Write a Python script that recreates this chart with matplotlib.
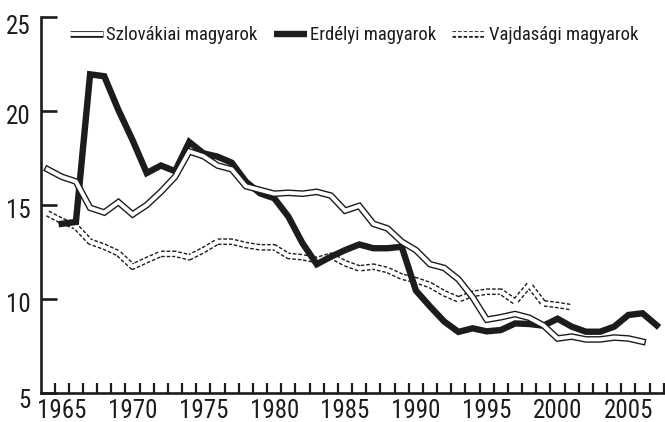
import matplotlib
matplotlib.use("Agg")
import matplotlib.pyplot as plt
import matplotlib.transforms as mtransforms
from matplotlib.lines import Line2D
from matplotlib.legend_handler import HandlerTuple
from matplotlib.ticker import FixedLocator
import numpy as np

plt.rcParams['font.family'] = ['Roboto Condensed', 'DejaVu Sans']
plt.rcParams['font.stretch'] = 'condensed'
plt.rcParams['lines.scale_dashes'] = False

years_slo = list(range(1964, 2007))
slovakia = [16.9, 16.5, 16.25, 14.85, 14.6, 15.15, 14.5, 15.0, 15.7, 16.5, 17.85,
            17.6, 17.1, 16.9, 16.0, 15.8, 15.6, 15.65, 15.6, 15.7, 15.5, 14.7,
            14.95, 14.0, 13.75, 13.05, 12.6, 11.85, 11.65, 11.05, 10.1, 8.9,
            9.03, 9.2, 9.0, 8.6, 7.9, 8.0, 7.85, 7.85, 7.95, 7.9, 7.73]

years_erd = list(range(1965, 2008))
erdely = [14.0, 14.1, 21.95, 21.85, 20.05, 18.45, 16.7, 17.1, 16.8, 18.35,
          17.75, 17.57, 17.25, 16.24, 15.62, 15.36, 14.38, 12.96, 11.85, 12.25,
          12.6, 12.9, 12.7, 12.7, 12.78, 10.45, 9.6, 8.8, 8.25, 8.44, 8.28,
          8.35, 8.7, 8.67, 8.58, 8.95, 8.53, 8.26, 8.26, 8.53, 9.15, 9.24, 8.6]

years_vaj = list(range(1964, 2002))
vajdasag = [14.55, 14.16, 13.85, 13.05, 12.78, 12.43, 11.72, 12.07, 12.4, 12.4,
            12.22, 12.6, 13.05, 13.05, 12.87, 12.75, 12.75, 12.29, 12.22, 12.07,
            12.3, 11.9, 11.63, 11.72, 11.54, 11.19, 11.0, 10.74, 10.3, 9.98,
            10.27, 10.39, 10.39, 9.86, 10.75, 9.77, 9.68, 9.56]

labels = ["Szlovákiai magyarok", "Erdélyi magyarok", "Vajdasági magyarok"]
x_ticks = [1965, 1970, 1975, 1980, 1985, 1990, 1995, 2000, 2005]
y_ticks = [5, 10, 15, 20, 25]

INK = "#1c1c1c"
W = 665 / 100
H = 422 / 100
fig = plt.figure(figsize=(W, H), dpi=100)
ax = fig.add_axes([40.5 / 665, 29 / 422, 623.3 / 665, 376 / 422])

outer = 4.8
inner = 2.8
thick = 4.6
dash = (0, (2.6, 1.4))

# Vajdasági (dashed double line)
ax.plot(years_vaj, vajdasag, color=INK, lw=outer, linestyle=dash,
        solid_joinstyle='miter', zorder=2)
ax.plot(years_vaj, vajdasag, color='white', lw=inner, zorder=2.1)

# Erdélyi (thick black)
ax.plot(years_erd, erdely, color=INK, lw=thick, solid_joinstyle='miter', zorder=3)

# Szlovákiai (double line)
ax.plot(years_slo, slovakia, color=INK, lw=outer, solid_joinstyle='miter', zorder=4)
ax.plot(years_slo, slovakia, color='white', lw=inner, solid_joinstyle='miter', zorder=4.1)

ax.set_xlim(1963.5, 2007.5)
ax.set_ylim(5, 25)

for s in ['top', 'right']:
    ax.spines[s].set_visible(False)
for s in ['left', 'bottom']:
    ax.spines[s].set_linewidth(1.9)
    ax.spines[s].set_color(INK)

ax.xaxis.set_major_locator(FixedLocator(x_ticks))
ax.xaxis.set_minor_locator(FixedLocator(np.arange(1964.5, 2007.6, 1.0)))
ax.yaxis.set_major_locator(FixedLocator(y_ticks))

ax.tick_params(axis='x', which='major', length=0, pad=4, labelsize=18, colors=INK)
ax.tick_params(axis='x', which='minor', direction='in', length=7.5, width=1.6, color=INK)
ax.tick_params(axis='y', which='major', direction='in', length=11.5, width=1.9,
               color=INK, labelsize=18, pad=7, labelcolor=INK)

# nudge y tick labels downward as in the reference
shifts_px = [6, 3, 3, 3, 7]
for lab, dpx in zip(ax.get_yticklabels(), shifts_px):
    lab.set_transform(lab.get_transform() +
                      mtransforms.ScaledTranslation(0, -dpx / 100, fig.dpi_scale_trans))

h1 = (Line2D([], [], color=INK, lw=outer, solid_capstyle='butt'),
      Line2D([], [], color='white', lw=inner, solid_capstyle='butt'))
h2 = Line2D([], [], color=INK, lw=thick, solid_capstyle='butt')
h3 = (Line2D([], [], color=INK, lw=outer, linestyle=dash),
      Line2D([], [], color='white', lw=inner, solid_capstyle='butt'))
leg = ax.legend([h1, h2, h3], labels, handler_map={tuple: HandlerTuple(ndivide=1, pad=0)},
                loc='upper left', bbox_to_anchor=(0.035, 0.995), ncol=3, frameon=False,
                handlelength=1.75, handletextpad=0.2, columnspacing=0.85,
                borderaxespad=0.0, prop={'size': 13.5})
for t in leg.get_texts():
    t.set_color(INK)

fig.savefig("out.png", dpi=100)
